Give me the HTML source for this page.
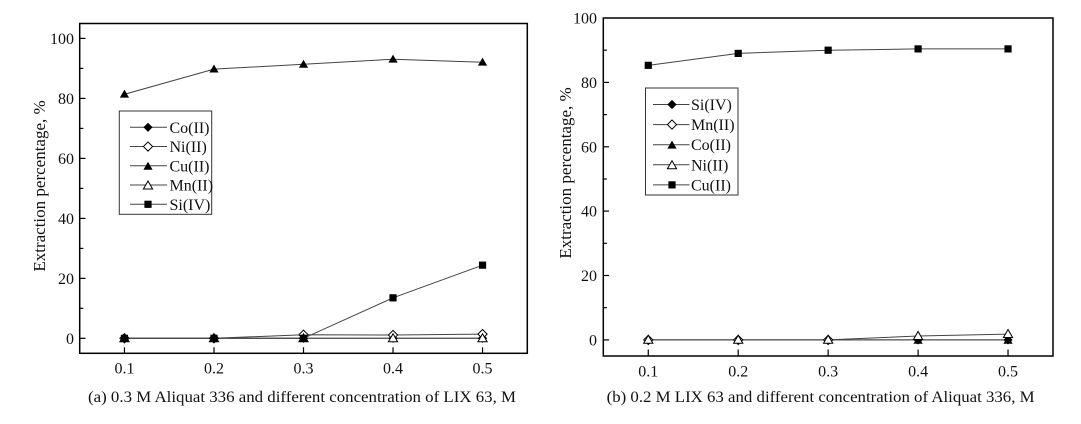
<!DOCTYPE html>
<html><head><meta charset="utf-8"><style>
html,body{margin:0;padding:0;background:#fff;}
svg{display:block;}
text{font-family:"Liberation Serif","Times New Roman",serif;fill:#111;}
</style></head><body>
<svg width="1081" height="424" viewBox="0 0 1081 424" xmlns="http://www.w3.org/2000/svg">
<defs>
<path id="tri" d="M-4.6,3.4 L4.6,3.4 L0,-4.6 Z"/>
<path id="dia" d="M0,-4.6 L4.6,0 L0,4.6 L-4.6,0 Z"/>
<path id="sq" d="M-3.6,-3.6 H3.6 V3.6 H-3.6 Z"/>
</defs>

<!-- ============ PANEL A ============ -->
<g>
<rect x="79.7" y="23.5" width="447.6" height="329.8" fill="none" stroke="#000" stroke-width="1.5"/>
<!-- y ticks -->
<g stroke="#000" stroke-width="1.2">
<line x1="79.7" y1="338.3" x2="85.5" y2="338.3"/>
<line x1="79.7" y1="278.35" x2="85.5" y2="278.35"/>
<line x1="79.7" y1="218.4" x2="85.5" y2="218.4"/>
<line x1="79.7" y1="158.4" x2="85.5" y2="158.4"/>
<line x1="79.7" y1="98.4" x2="85.5" y2="98.4"/>
<line x1="79.7" y1="38.4" x2="85.5" y2="38.4"/>
<line x1="79.7" y1="308.3" x2="83.3" y2="308.3"/>
<line x1="79.7" y1="248.4" x2="83.3" y2="248.4"/>
<line x1="79.7" y1="188.4" x2="83.3" y2="188.4"/>
<line x1="79.7" y1="128.4" x2="83.3" y2="128.4"/>
<line x1="79.7" y1="68.4" x2="83.3" y2="68.4"/>
<!-- x ticks -->
<line x1="124.46" y1="353.3" x2="124.46" y2="347.3"/>
<line x1="213.98" y1="353.3" x2="213.98" y2="347.3"/>
<line x1="303.5" y1="353.3" x2="303.5" y2="347.3"/>
<line x1="393.02" y1="353.3" x2="393.02" y2="347.3"/>
<line x1="482.54" y1="353.3" x2="482.54" y2="347.3"/>
</g>
<g font-size="16" text-anchor="end">
<text x="74" y="343.8">0</text>
<text x="74" y="283.9">20</text>
<text x="74" y="223.9">40</text>
<text x="74" y="163.9">60</text>
<text x="74" y="103.9">80</text>
<text x="74" y="43.9">100</text>
</g>
<g font-size="16" text-anchor="middle">
<text x="124.46" y="373.5">0.1</text>
<text x="213.98" y="373.5">0.2</text>
<text x="303.5" y="373.5">0.3</text>
<text x="393.02" y="373.5">0.4</text>
<text x="482.54" y="373.5">0.5</text>
</g>
<text font-size="17" text-anchor="middle" transform="translate(45,186) rotate(-90)">Extraction percentage, %</text>
<text x="88" y="402" font-size="16" textLength="428" lengthAdjust="spacingAndGlyphs">(a) 0.3 M Aliquat 336 and different concentration of LIX 63, M</text>

<!-- series lines -->
<g fill="none" stroke="#444" stroke-width="1">
<polyline points="124.46,338.31 213.98,338.31 303.5,338.31 393.02,338.31 482.54,338.31"/>
<polyline points="124.46,338.31 213.98,338.31 303.5,334.7 393.02,335.0 482.54,334.1"/>
<polyline points="124.46,94.27 213.98,69.09 303.5,64.29 393.02,59.2 482.54,62.2"/>
<polyline points="124.46,338.31 213.98,338.31 303.5,338.31 393.02,338.31 482.54,338.31"/>
<polyline points="124.46,338.31 213.98,338.31 303.5,338.31 393.02,297.84 482.54,265.16"/>
</g>
<!-- Co filled diamond -->
<g fill="#000">
<use href="#dia" x="124.46" y="338.31"/><use href="#dia" x="213.98" y="338.31"/><use href="#dia" x="303.5" y="338.31"/><use href="#dia" x="393.02" y="338.31"/><use href="#dia" x="482.54" y="338.31"/>
</g>
<!-- Ni open diamond -->
<g fill="#fff" stroke="#000" stroke-width="1">
<use href="#dia" x="124.46" y="338.31"/><use href="#dia" x="213.98" y="338.31"/><use href="#dia" x="303.5" y="334.7"/><use href="#dia" x="393.02" y="335.0"/><use href="#dia" x="482.54" y="334.1"/>
</g>
<!-- Cu filled triangle -->
<g fill="#000">
<use href="#tri" x="124.46" y="94.27"/><use href="#tri" x="213.98" y="69.09"/><use href="#tri" x="303.5" y="64.29"/><use href="#tri" x="393.02" y="59.2"/><use href="#tri" x="482.54" y="62.2"/>
</g>
<!-- Mn open triangle -->
<g fill="#fff" stroke="#000" stroke-width="1">
<use href="#tri" x="124.46" y="338.31"/><use href="#tri" x="213.98" y="338.31"/><use href="#tri" x="303.5" y="338.31"/><use href="#tri" x="393.02" y="338.31"/><use href="#tri" x="482.54" y="338.31"/>
</g>
<!-- Si filled square -->
<g fill="#000">
<use href="#sq" x="124.46" y="338.31"/><use href="#sq" x="213.98" y="338.31"/><use href="#sq" x="303.5" y="338.31"/><use href="#sq" x="393.02" y="297.84"/><use href="#sq" x="482.54" y="265.16"/>
</g>

<!-- legend A -->
<rect x="119.3" y="111" width="92.4" height="103.3" fill="#fff" stroke="#333" stroke-width="1"/>
<g stroke="#444" stroke-width="1">
<line x1="130" y1="127.3" x2="167" y2="127.3"/>
<line x1="130" y1="146.55" x2="167" y2="146.55"/>
<line x1="130" y1="165.8" x2="167" y2="165.8"/>
<line x1="130" y1="185.05" x2="167" y2="185.05"/>
<line x1="130" y1="204.3" x2="167" y2="204.3"/>
</g>
<use href="#dia" x="148" y="127.3" fill="#000"/>
<use href="#dia" x="148" y="146.55" fill="#fff" stroke="#000"/>
<use href="#tri" x="148" y="166.3" fill="#000"/>
<use href="#tri" x="148" y="185.55" fill="#fff" stroke="#000"/>
<use href="#sq" x="148" y="204.3" fill="#000"/>
<g font-size="16">
<text x="169.5" y="132.8">Co(II)</text>
<text x="169.5" y="152.05">Ni(II)</text>
<text x="169.5" y="171.3">Cu(II)</text>
<text x="169.5" y="190.55">Mn(II)</text>
<text x="169.5" y="209.8">Si(IV)</text>
</g>
</g>

<!-- ============ PANEL B ============ -->
<g>
<rect x="603.3" y="18" width="449.7" height="338" fill="none" stroke="#000" stroke-width="1.5"/>
<g stroke="#000" stroke-width="1.2">
<line x1="603.3" y1="339.9" x2="609.1" y2="339.9"/>
<line x1="603.3" y1="275.5" x2="609.1" y2="275.5"/>
<line x1="603.3" y1="211.1" x2="609.1" y2="211.1"/>
<line x1="603.3" y1="146.8" x2="609.1" y2="146.8"/>
<line x1="603.3" y1="82.4" x2="609.1" y2="82.4"/>
<line x1="603.3" y1="307.7" x2="606.9" y2="307.7"/>
<line x1="603.3" y1="243.3" x2="606.9" y2="243.3"/>
<line x1="603.3" y1="179" x2="606.9" y2="179"/>
<line x1="603.3" y1="114.6" x2="606.9" y2="114.6"/>
<line x1="603.3" y1="50.2" x2="606.9" y2="50.2"/>
<line x1="648.27" y1="356" x2="648.27" y2="349.5"/>
<line x1="738.21" y1="356" x2="738.21" y2="349.5"/>
<line x1="828.15" y1="356" x2="828.15" y2="349.5"/>
<line x1="918.09" y1="356" x2="918.09" y2="349.5"/>
<line x1="1008.03" y1="356" x2="1008.03" y2="349.5"/>
</g>
<g font-size="16" text-anchor="end">
<text x="597" y="345.4">0</text>
<text x="597" y="281">20</text>
<text x="597" y="216.6">40</text>
<text x="597" y="152.3">60</text>
<text x="597" y="87.9">80</text>
<text x="597" y="23.5">100</text>
</g>
<g font-size="16" text-anchor="middle">
<text x="648.27" y="376.3">0.1</text>
<text x="738.21" y="376.3">0.2</text>
<text x="828.15" y="376.3">0.3</text>
<text x="918.09" y="376.3">0.4</text>
<text x="1008.03" y="376.3">0.5</text>
</g>
<text font-size="17" text-anchor="middle" transform="translate(571,173) rotate(-90)">Extraction percentage, %</text>
<text x="606.6" y="402" font-size="16" textLength="428" lengthAdjust="spacingAndGlyphs">(b) 0.2 M LIX 63 and different concentration of Aliquat 336, M</text>

<g fill="none" stroke="#444" stroke-width="1">
<polyline points="648.27,339.9 738.21,339.9 828.15,339.9 918.09,339.9 1008.03,339.9"/>
<polyline points="648.27,339.9 738.21,339.9 828.15,339.9 918.09,339.9 1008.03,339.9"/>
<polyline points="648.27,339.9 738.21,339.9 828.15,339.9 918.09,336.04 1008.03,334.11"/>
<polyline points="648.27,65.32 738.21,53.41 828.15,50.2 918.09,48.91 1008.03,48.91"/>
</g>
<!-- Si filled diamond -->
<g fill="#000">
<use href="#dia" x="648.27" y="339.9"/><use href="#dia" x="738.21" y="339.9"/><use href="#dia" x="828.15" y="339.9"/><use href="#dia" x="918.09" y="339.9"/><use href="#dia" x="1008.03" y="339.9"/>
</g>
<!-- Mn open diamond -->
<g fill="#fff" stroke="#000" stroke-width="1">
<use href="#dia" x="648.27" y="339.9"/><use href="#dia" x="738.21" y="339.9"/><use href="#dia" x="828.15" y="339.9"/>
</g>
<!-- Co filled triangle -->
<g fill="#000">
<use href="#tri" x="918.09" y="340.4"/><use href="#tri" x="1008.03" y="340.4"/>
</g>
<!-- Ni open triangle -->
<g fill="#fff" stroke="#000" stroke-width="1">
<use href="#tri" x="648.27" y="339.9"/><use href="#tri" x="738.21" y="339.9"/><use href="#tri" x="828.15" y="339.9"/><use href="#tri" x="918.09" y="336.04"/><use href="#tri" x="1008.03" y="334.11"/>
</g>
<!-- Cu filled square -->
<g fill="#000">
<use href="#sq" x="648.27" y="65.32"/><use href="#sq" x="738.21" y="53.41"/><use href="#sq" x="828.15" y="50.2"/><use href="#sq" x="918.09" y="48.91"/><use href="#sq" x="1008.03" y="48.91"/>
</g>

<!-- legend B -->
<rect x="645.5" y="88" width="92.5" height="107" fill="#fff" stroke="#333" stroke-width="1"/>
<g stroke="#444" stroke-width="1">
<line x1="653" y1="104.5" x2="689.5" y2="104.5"/>
<line x1="653" y1="124.6" x2="689.5" y2="124.6"/>
<line x1="653" y1="144.7" x2="689.5" y2="144.7"/>
<line x1="653" y1="164.8" x2="689.5" y2="164.8"/>
<line x1="653" y1="184.9" x2="689.5" y2="184.9"/>
</g>
<use href="#dia" x="672" y="104.5" fill="#000"/>
<use href="#dia" x="672" y="124.6" fill="#fff" stroke="#000"/>
<use href="#tri" x="672" y="145.2" fill="#000"/>
<use href="#tri" x="672" y="165.3" fill="#fff" stroke="#000"/>
<use href="#sq" x="672" y="184.9" fill="#000"/>
<g font-size="16">
<text x="691" y="110">Si(IV)</text>
<text x="691" y="130.1">Mn(II)</text>
<text x="691" y="150.2">Co(II)</text>
<text x="691" y="170.3">Ni(II)</text>
<text x="691" y="190.4">Cu(II)</text>
</g>
</g>
</svg>
</body></html>
